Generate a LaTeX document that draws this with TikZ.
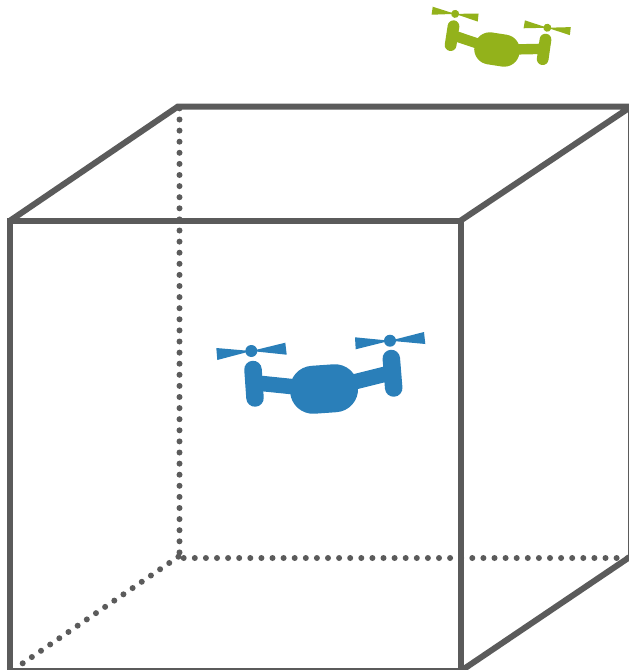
\documentclass[tikz,border=0pt]{standalone}
\usepackage{tikz}
\definecolor{cubeGray}{HTML}{5B5B5B}
\definecolor{droneBlue}{HTML}{2A7FB9}
\definecolor{droneGreen}{HTML}{93B21B}
\tikzset{
  edgeSolid/.style={draw=cubeGray, line width=6pt, line join=miter},
  edgeDots/.style={draw=cubeGray, line width=6pt, line cap=round,
                   dash pattern=on 0pt off 11.1pt},
  % colour, scale, rotation
  pics/drone/.style n args={3}{code={
    \begin{scope}[rotate=#3, scale=#2, draw=#1, fill=#1, line cap=round]
      \draw[line width=#2*17.5pt] (-71,-19.5) -- (-69,9);
      \draw[line width=#2*17.5pt] (67.3,-30.5) -- (69.7,-1);
      \draw[line width=#2*15.5pt, line cap=butt] (-70,-6.3) -- (-30,-2.2);
      \draw[line width=#2*15.5pt, line cap=butt] (28,-6.5) -- (68,-16.5);
      \fill[rotate=4, rounded corners=#2*23pt] (-34,-24) rectangle (34,24);
      \fill (-72.7,-38) circle (6);
      \fill (66,-48.3) circle (6);
      \fill (-107.7,-41) -- (-72.7,-38) -- (-106.7,-29) -- cycle;
      \fill (-38.7,-46.3) -- (-72.7,-38) -- (-37.3,-34.3) -- cycle;
      \fill (31,-51.7) -- (66,-48.3) -- (31.7,-39.7) -- cycle;
      \fill (100,-57) -- (66,-48.3) -- (101.3,-45) -- cycle;
    \end{scope}
  }},
}
\begin{document}
\begin{tikzpicture}[x=1pt, y=-1pt]
  \clip[use as bounding box] (0,0) rectangle (629,670);
  % front face
  \coordinate (ftl) at (10,220.7);
  \coordinate (ftr) at (460.5,220.7);
  \coordinate (fbr) at (460.5,671.2);
  \coordinate (fbl) at (10,671.2);
  % back face
  \coordinate (btl) at (178,106.5);
  \coordinate (btr) at (631.2,106.5);
  \coordinate (bbr) at (631.2,556);
  % hidden edges
  \coordinate (vtop) at (179.5,108.4);
  \coordinate (vend) at (179.5,553);
  \coordinate (hbeg) at (183.7,558);
  \coordinate (hend) at (630,558);
  \coordinate (dbeg) at (22.7,663.3);
  \coordinate (dend) at (179,556.3);
  \foreach \a/\b in {vtop/vend, hbeg/hend, dbeg/dend} {
    \draw[edgeDots] (\a) -- (\b);
  }
  \draw[edgeSolid] (ftl) -- (ftr) -- (fbr) -- (fbl) -- cycle;
  \draw[edgeSolid] (ftl) -- (btl) -- (btr) -- (ftr);
  \draw[edgeSolid] (btr) -- (bbr) -- (fbr);
  \pic at (324,389) {drone={droneBlue}{1}{0}};
  \pic at (497,49.5) {drone={droneGreen}{0.67}{-12.8}};
\end{tikzpicture}
\end{document}
